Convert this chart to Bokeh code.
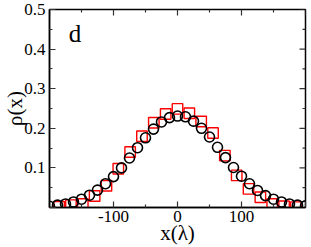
import math
from bokeh.plotting import figure
from bokeh.models import Range1d, FixedTicker, LinearAxis, Label
from bokeh.embed import file_html
from bokeh.resources import INLINE

# circles (black)
circ_x = [-200, -187.5, -175, -162.5, -150, -137.5, -125, -112.5, -100, -87.5, -75, -62.5,
          -50, -37.5, -25, -12.5, 0, 12.5, 25, 37.5, 50, 62.5, 75, 87.5, 100, 112.5, 125,
          137.5, 150, 162.5, 175, 187.5, 200]
circ_y = [0.003, 0.006, 0.009, 0.014, 0.021, 0.031, 0.044, 0.060, 0.078, 0.100, 0.125, 0.151,
          0.176, 0.198, 0.216, 0.227, 0.231, 0.229, 0.218, 0.200, 0.178, 0.152, 0.126, 0.101,
          0.079, 0.060, 0.043, 0.030, 0.021, 0.014, 0.009, 0.006, 0.004]

# squares (red)
sq_x = [-185, -166.5, -148, -129.5, -111, -92.5, -74, -55.5, -37, -18.5, 0, 18.5, 37, 55.5,
        74, 92.5, 111, 129.5, 148, 166.5, 185]
sq_y = [0.002, 0.006, 0.009, 0.029, 0.055, 0.098, 0.140, 0.180, 0.214, 0.236, 0.249, 0.238,
        0.217, 0.188, 0.131, 0.081, 0.047, 0.026, 0.009, 0.003, 0.001]

x_major = [-200, -100, 0, 100, 200]
x_minor = [-150, -50, 50, 150]
x_labels = {-200: "", -100: "-100", 0: "0", 100: "100", 200: ""}
y_major = [0, 0.1, 0.2, 0.3, 0.4, 0.5]
y_minor = [0.05, 0.15, 0.25, 0.35, 0.45]
y_labels = {0: "", 0.1: "0.1", 0.2: "0.2", 0.3: "0.3", 0.4: "0.4", 0.5: "0.5"}

X0, X1 = -200, 200
Y0, Y1 = 0, 0.5

FONT = "Liberation Serif"
TICK_COL = "#333333"

p = figure(width=311, height=247, output_backend="svg", toolbar_location=None,
           x_range=Range1d(X0, X1), y_range=Range1d(Y0, Y1),
           min_border_left=46, min_border_right=6, min_border_top=9, min_border_bottom=38,
           x_axis_location=None, y_axis_location=None)
p.grid.visible = False
p.outline_line_color = "black"
p.outline_line_width = 1.5
p.background_fill_color = "white"
p.border_fill_color = "white"


def style(ax, ticks, minor, labels, lab_standoff, axl_standoff):
    ax.ticker = FixedTicker(ticks=ticks, minor_ticks=minor)
    ax.major_tick_in = 6
    ax.major_tick_out = 0
    ax.minor_tick_in = 3
    ax.minor_tick_out = 0
    ax.axis_line_color = "black"
    ax.axis_line_width = 1.5
    ax.major_tick_line_color = TICK_COL
    ax.minor_tick_line_color = TICK_COL
    ax.major_tick_line_width = 1.2
    ax.minor_tick_line_width = 1.2
    ax.major_label_overrides = labels
    ax.major_label_text_font = FONT
    ax.major_label_text_font_size = "17px"
    ax.major_label_text_color = "black"
    ax.axis_label_text_font = FONT
    ax.axis_label_text_font_size = "21px"
    ax.axis_label_text_font_style = "normal"
    ax.axis_label_text_color = "black"
    ax.major_label_standoff = lab_standoff
    ax.axis_label_standoff = axl_standoff


bx = LinearAxis(axis_label="x(λ)")
style(bx, x_major, x_minor, x_labels, 3, -4)
p.add_layout(bx, "below")
ly = LinearAxis(axis_label="ρ(x)")
style(ly, y_major, y_minor, y_labels, 4, -6)
p.add_layout(ly, "left")

# mirrored inward ticks on the top and right edges
p.ray(x=x_major, y=[Y1] * len(x_major), length=6, length_units="screen",
      angle=-math.pi / 2, line_color=TICK_COL, line_width=1.2)
p.ray(x=x_minor, y=[Y1] * len(x_minor), length=3, length_units="screen",
      angle=-math.pi / 2, line_color=TICK_COL, line_width=1.2)
p.ray(x=[X1] * len(y_major), y=y_major, length=6, length_units="screen",
      angle=math.pi, line_color=TICK_COL, line_width=1.2)
p.ray(x=[X1] * len(y_minor), y=y_minor, length=3, length_units="screen",
      angle=math.pi, line_color=TICK_COL, line_width=1.2)

p.scatter(sq_x, sq_y, marker="square", size=10.5, fill_color=None,
          line_color="#ff0000", line_width=1.4)
p.scatter(circ_x, circ_y, marker="circle", size=10, fill_color=None,
          line_color="black", line_width=1.6)

p.add_layout(Label(x=-160, y=0.44, text="d", text_font=FONT, text_font_size="25px",
                   text_align="center", text_baseline="middle", text_color="black"))

open("out.html", "w").write(file_html(p, INLINE))
